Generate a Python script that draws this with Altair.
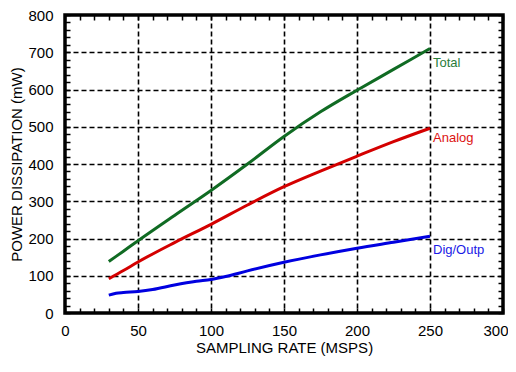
import altair as alt
import pandas as pd

FONT = "Liberation Sans"

total_x = [30, 40, 50, 75, 100, 125, 150, 175, 200, 225, 250]
total_y = [138, 166, 194, 262, 329, 400, 474, 540, 598, 654, 710]

analog_x = [30, 40, 50, 75, 100, 125, 150, 175, 200, 225, 250]
analog_y = [92, 114, 137, 189, 238, 290, 339, 381, 421, 460, 496]

dig_x = [30, 35, 40, 50, 60, 75, 90, 100, 110, 125, 150, 175, 200, 225, 250]
dig_y = [48, 53, 55, 58, 63, 75, 85, 90, 98, 113, 136, 156, 174, 190, 206]

series_names = ["Total", "Analog", "Dig/Outp"]
series_colors = ["#106b23", "#d40000", "#0000e0"]
label_colors = ["#2a7d3a", "#dd1111", "#1a1ae6"]
label_dy = [14, 10, 14]

rows = []
for name, xs, ys in zip(series_names, [total_x, analog_x, dig_x], [total_y, analog_y, dig_y]):
    for x, y in zip(xs, ys):
        rows.append({"series": name, "rate": x, "power": y})
df = pd.DataFrame(rows)

x_minor = list(range(0, 301, 10))
y_minor = list(range(0, 801, 20))

xscale = alt.Scale(domain=[0, 300], nice=False)
yscale = alt.Scale(domain=[0, 800], nice=False)
TICK = 5
FRAME = 3.5

common = dict(offset=-TICK, tickSize=TICK, tickWidth=1.5, tickColor="black", domain=False,
              labelOverlap=False, labelFlush=False, labelFont=FONT, labelFontSize=15,
              labelColor="black", titleFont=FONT, titleFontSize=15, titleFontWeight="normal",
              titleColor="black", gridColor="black", gridDash=[5, 3], gridWidth=1.6)

ax_bottom = alt.Axis(
    orient="bottom", values=x_minor, grid=True,
    gridOpacity={"condition": {"test": "datum.value % 50 === 0 && datum.value > 0 && datum.value < 300",
                               "value": 1}, "value": 0},
    labelExpr="datum.value % 50 === 0 ? datum.label : ''",
    labelAlign={"condition": {"test": "datum.value === 300", "value": "right"}, "value": "center"},
    labelOffset={"condition": {"test": "datum.value === 300", "value": 5}, "value": 0},
    labelPadding=10, title="SAMPLING RATE (MSPS)", titlePadding=2, **common)
ax_left = alt.Axis(
    orient="left", values=y_minor, grid=True,
    gridOpacity={"condition": {"test": "datum.value % 100 === 0 && datum.value > 0 && datum.value < 800",
                               "value": 1}, "value": 0},
    labelExpr="datum.value % 100 === 0 ? datum.label : ''",
    labelPadding=12, title="POWER DISSIPATION (mW)", titlePadding=3, **common)

tick_common = dict(offset=-TICK, tickSize=TICK, tickWidth=1.5, tickColor="black", domain=False,
                   labels=False, grid=False, title=None)
ax_top = alt.Axis(orient="top", values=x_minor, **tick_common)
ax_right = alt.Axis(orient="right", values=y_minor, **tick_common)

lines = alt.Chart(df).mark_line(strokeWidth=3, interpolate="monotone").encode(
    x=alt.X("rate:Q", scale=xscale, axis=ax_bottom),
    y=alt.Y("power:Q", scale=yscale, axis=ax_left),
    color=alt.Color("series:N", scale=alt.Scale(domain=series_names, range=series_colors), legend=None),
    detail="series:N",
)

ticks2 = alt.Chart(df).mark_point(opacity=0).encode(
    x=alt.X("rate:Q", scale=xscale, axis=ax_top),
    y=alt.Y("power:Q", scale=yscale, axis=ax_right),
)

label_layers = []
for name, col, dy in zip(series_names, label_colors, label_dy):
    sub = df[df.series == name].tail(1)
    label_layers.append(alt.Chart(sub).mark_text(
        align="left", baseline="middle", dx=3, dy=dy, font=FONT, fontSize=13, color=col
    ).encode(x=alt.X("rate:Q", scale=xscale, axis=None),
             y=alt.Y("power:Q", scale=yscale, axis=None), text="series:N"))

chart = alt.layer(lines, ticks2, *label_layers).resolve_axis(
    x="independent", y="independent"
).properties(
    width=438, height=298,
    autosize=alt.AutoSizeParams(type="none"),
    padding={"left": 57, "top": 7, "right": 5, "bottom": 46},
    view=alt.ViewBackground(stroke="black", strokeWidth=FRAME),
).configure_view(stroke="black", strokeWidth=FRAME).configure(
    background="white", style={"cell": {"stroke": "black", "strokeWidth": FRAME}}
)

chart.save("out.html", embed_options={"renderer": "svg", "actions": False})
